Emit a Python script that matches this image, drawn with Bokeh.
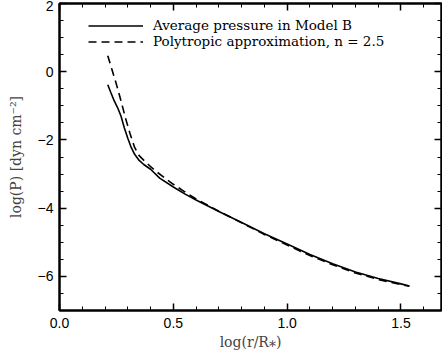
from bokeh.plotting import figure
from bokeh.models import LinearAxis, FixedTicker, Range1d, Legend, LegendItem
from bokeh.embed import file_html
from bokeh.resources import INLINE

# Average pressure in Model B (solid)
x_model = [0.212, 0.225, 0.24, 0.255, 0.27, 0.285, 0.30, 0.315, 0.33, 0.35, 0.37, 0.40,
           0.44, 0.50, 0.55, 0.60, 0.70, 0.80, 0.90, 1.00, 1.10, 1.20, 1.30, 1.40, 1.50, 1.537]
y_model = [-0.38, -0.60, -0.85, -1.05, -1.30, -1.65, -1.95, -2.22, -2.42, -2.60, -2.72, -2.86,
           -3.12, -3.38, -3.58, -3.76, -4.10, -4.42, -4.75, -5.05, -5.36, -5.63, -5.87, -6.06, -6.22, -6.28]

# Polytropic approximation, n = 2.5 (dashed)
x_poly = [0.212, 0.23, 0.25, 0.27, 0.29, 0.31, 0.33, 0.35, 0.38, 0.42, 0.46, 0.50,
          0.55, 0.60, 0.70, 0.80, 0.90, 1.00, 1.10, 1.20, 1.30, 1.40, 1.50, 1.537]
y_poly = [0.47, 0.07, -0.37, -0.85, -1.36, -1.82, -2.22, -2.46, -2.66, -2.90, -3.10, -3.30,
          -3.52, -3.73, -4.09, -4.43, -4.77, -5.08, -5.39, -5.66, -5.90, -6.09, -6.24, -6.29]

x_ticks = [0.0, 0.5, 1.0, 1.5]
x_tick_labels = {0.0: "0.0", 0.5: "0.5", 1.0: "1.0", 1.5: "1.5"}
x_minor = [i / 10 for i in range(0, 17)]
y_ticks = [-6, -4, -2, 0, 2]
y_tick_labels = {-6: "\u22126", -4: "\u22124", -2: "\u22122", 0: "0", 2: "2"}
y_minor = [-7 + i * 0.5 for i in range(0, 19)]

p = figure(width=442, height=356, x_range=Range1d(0, 1.678), y_range=Range1d(-7, 2),
           output_backend="svg", toolbar_location=None,
           min_border_left=59, min_border_right=1, min_border_top=3, min_border_bottom=46)
p.grid.visible = False
p.outline_line_color = "black"
p.outline_line_width = 2
p.background_fill_color = "white"
p.border_fill_color = "white"

r1 = p.line(x_model, y_model, line_color="black", line_width=1.6)
r2 = p.line(x_poly, y_poly, line_color="black", line_width=1.6, line_dash="8 5")

def style(ax):
    ax.axis_line_width = 2
    ax.axis_line_color = "black"
    ax.major_tick_in = 7
    ax.major_tick_out = 0
    ax.minor_tick_in = 4
    ax.minor_tick_out = 0
    ax.major_tick_line_width = 1.5
    ax.minor_tick_line_width = 1

def hide_labels(ax, ticks):
    ax.major_label_overrides = {t: "" for t in ticks}
    ax.major_label_text_font_size = "1px"
    ax.major_label_standoff = 0
    ax.axis_label_standoff = 0

xa = p.xaxis[0]
xa.ticker = FixedTicker(ticks=x_ticks, minor_ticks=x_minor)
xa.major_label_overrides = x_tick_labels
style(xa)
xa.major_label_text_font = "Liberation Sans"
xa.major_label_text_font_size = "14px"
xa.major_label_text_color = "black"
xa.major_label_standoff = 7
xa.axis_label = "log(r/R\u204e)"
xa.axis_label_standoff = 3
xa.axis_label_text_font = "DejaVu Serif"
xa.axis_label_text_font_style = "normal"
xa.axis_label_text_font_size = "14px"

ya = p.yaxis[0]
ya.ticker = FixedTicker(ticks=y_ticks, minor_ticks=y_minor)
ya.major_label_overrides = y_tick_labels
style(ya)
ya.major_label_text_font = "Liberation Sans"
ya.major_label_text_font_size = "14px"
ya.major_label_text_color = "black"
ya.major_label_standoff = 6
ya.axis_label = "log(P) [dyn cm\u207b\u00b2]"
ya.axis_label_standoff = 11
ya.axis_label_text_font = "DejaVu Serif"
ya.axis_label_text_font_style = "normal"
ya.axis_label_text_font_size = "14px"

top = LinearAxis(ticker=FixedTicker(ticks=x_ticks, minor_ticks=x_minor))
style(top)
hide_labels(top, x_ticks)
p.add_layout(top, "above")
right = LinearAxis(ticker=FixedTicker(ticks=y_ticks, minor_ticks=y_minor))
style(right)
hide_labels(right, y_ticks)
p.add_layout(right, "right")

legend = Legend(items=[LegendItem(label="Average pressure in Model B", renderers=[r1]),
                       LegendItem(label="Polytropic approximation, n = 2.5", renderers=[r2])],
                location=(29, 261))
legend.glyph_width = 55
legend.glyph_height = 15
legend.label_height = 15
legend.label_standoff = 10
legend.spacing = 0
legend.padding = 0
legend.margin = 0
legend.border_line_color = None
legend.background_fill_alpha = 0
legend.label_text_font = "DejaVu Serif"
legend.label_text_font_size = "13.5px"
legend.label_text_color = "black"
p.add_layout(legend)

open("out.html", "w").write(file_html(p, INLINE))
